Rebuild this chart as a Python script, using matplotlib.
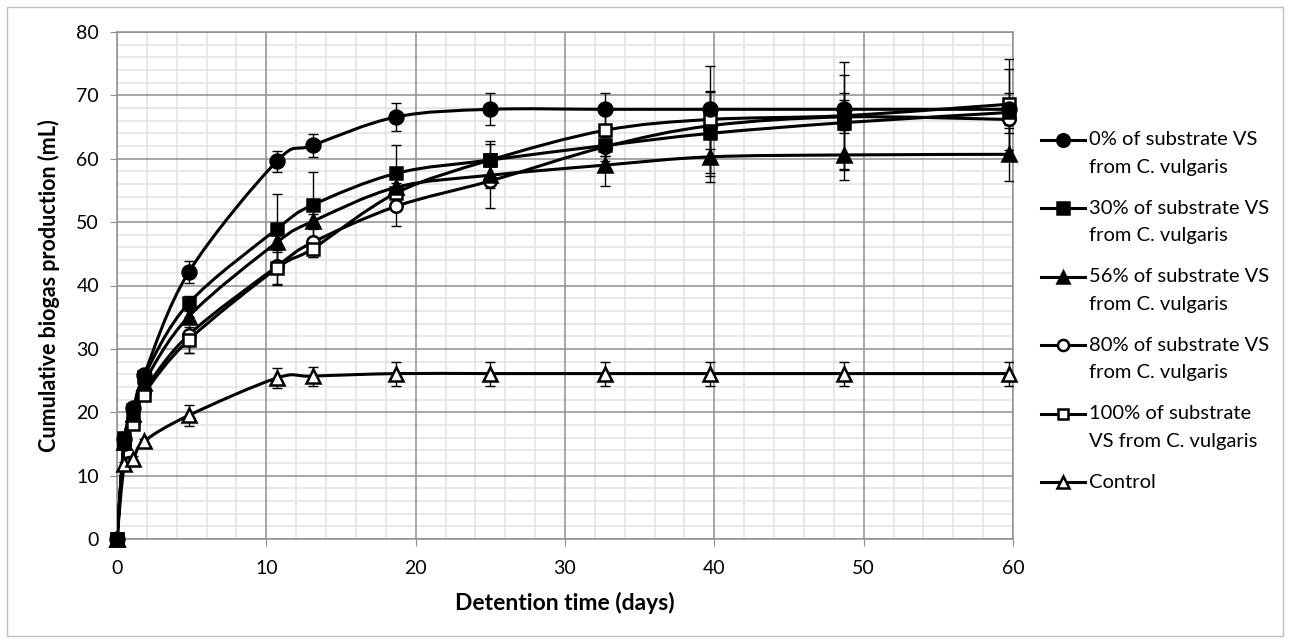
import numpy as np
import matplotlib
matplotlib.use("Agg")
import matplotlib.pyplot as plt
from matplotlib.path import Path
from matplotlib.patches import PathPatch, Rectangle
from matplotlib.lines import Line2D
from matplotlib.ticker import MultipleLocator

plt.rcParams['font.family'] = ['Lato', 'DejaVu Sans']

# ---------------- data ----------------
days = [0, 0.5, 1.1, 1.8, 4.8, 10.7, 13.1, 18.7, 25.0, 32.7, 39.7, 48.7, 59.7]

s0 = [0, 15.8, 20.6, 25.8, 42.1, 59.6, 62.1, 66.6, 67.8, 67.8, 67.8, 67.8, 67.8]
e0 = [0, 0.5, 0.5, 0.5, 1.7, 1.65, 1.75, 2.2, 2.5, 2.5, 2.7, 2.5, 2.5]

s30 = [0, 15.9, 20.4, 25.6, 37.2, 48.9, 52.7, 57.7, 59.8, 62.1, 64.0, 65.7, 67.3]
e30 = [0, 0.5, 0.5, 0.5, 1.2, 5.6, 5.2, 4.5, 3.0, 2.5, 6.7, 7.5, 6.8]

s56 = [0, 15.3, 19.8, 24.6, 35.1, 46.8, 50.1, 55.5, 57.4, 59.0, 60.3, 60.6, 60.7]
e56 = [0, 0.5, 0.5, 0.5, 1.0, 1.2, 1.2, 1.5, 2.0, 3.3, 3.9, 4.0, 4.2]

s80 = [0, 15.0, 18.6, 23.2, 32.2, 43.0, 46.8, 52.5, 56.5, 61.9, 65.2, 66.6, 66.2]
e80 = [0, 0.5, 0.5, 0.5, 2.8, 2.7, 2.3, 3.1, 4.2, 1.5, 3.6, 2.6, 2.2]

s100 = [0, 15.2, 18.2, 22.8, 31.4, 42.7, 45.8, 54.6, 59.8, 64.5, 66.2, 66.8, 68.6]
e100 = [0, 0.5, 0.5, 0.5, 2.0, 2.6, 1.3, 1.5, 2.5, 4.0, 8.4, 8.4, 7.2]

sc = [0, 11.8, 12.7, 15.4, 19.5, 25.4, 25.7, 26.1, 26.1, 26.1, 26.1, 26.1, 26.1]
ec = [0, 0.4, 0.4, 0.4, 1.7, 1.6, 1.5, 1.9, 1.9, 1.9, 1.9, 1.9, 1.9]

labels = ["0% of substrate VS\nfrom C. vulgaris",
          "30% of substrate VS\nfrom C. vulgaris",
          "56% of substrate VS\nfrom C. vulgaris",
          "80% of substrate VS\nfrom C. vulgaris",
          "100% of substrate\nVS from C. vulgaris",
          "Control"]

series = [s0, s30, s56, s80, s100, sc]
errors = [e0, e30, e56, e80, e100, ec]
markers = ['o', 's', '^', 'o', 's', '^']
faces = ['black', 'black', 'black', 'white', 'white', 'white']
msizes = [10, 9, 10, 9, 8.5, 9.5]
marker_z = [5.3, 5.9, 5.4, 5.1, 5.2, 5.0]

# ---------------- figure ----------------
W, H = 1290, 643
fig = plt.figure(figsize=(W / 100, H / 100), dpi=100)
fig.patches.append(Rectangle((7 / W, 7 / H), 1 - 14 / W, 1 - 14 / H,
                             transform=fig.transFigure, fill=False,
                             edgecolor='#bfbfbf', lw=1))

ax = fig.add_axes([117 / W, 1 - 539 / H, 896 / W, 507 / H])
ax.set_xlim(0, 60)
ax.set_ylim(0, 80)
ax.xaxis.set_major_locator(MultipleLocator(10))
ax.yaxis.set_major_locator(MultipleLocator(10))
ax.xaxis.set_minor_locator(MultipleLocator(2))
ax.yaxis.set_minor_locator(MultipleLocator(2))

# minor grid beneath the major grid
ax.vlines(ax.xaxis.get_minorticklocs(), 0, 1, transform=ax.get_xaxis_transform(),
          colors='#e4e4e4', lw=1.2, zorder=0.2)
ax.hlines(ax.yaxis.get_minorticklocs(), 0, 1, transform=ax.get_yaxis_transform(),
          colors='#e4e4e4', lw=1.2, zorder=0.2)
ax.grid(which='major', color='#8f8f8f', lw=1.1, linestyle='-')
ax.set_axisbelow(True)
for sp in ax.spines.values():
    sp.set_color('#8f8f8f')
    sp.set_linewidth(1.1)
ax.tick_params(which='major', direction='out', length=5, color='#8f8f8f',
               labelsize=14, pad=8)
ax.tick_params(which='minor', length=0)
ax.tick_params(axis='x', pad=10)


def smooth_path(x, y):
    x = np.asarray(x, float)
    y = np.asarray(y, float)
    n = len(x)
    verts = [(x[0], y[0])]
    codes = [Path.MOVETO]
    for i in range(n - 1):
        x0, y0 = (x[i - 1], y[i - 1]) if i > 0 else (x[i], y[i])
        x3, y3 = (x[i + 2], y[i + 2]) if i + 2 < n else (x[i + 1], y[i + 1])
        c1 = (x[i] + (x[i + 1] - x0) / 6, y[i] + (y[i + 1] - y0) / 6)
        c2 = (x[i + 1] - (x3 - x[i]) / 6, y[i + 1] - (y3 - y[i]) / 6)
        verts += [c1, c2, (x[i + 1], y[i + 1])]
        codes += [Path.CURVE4] * 3
    return Path(verts, codes)


for k, (s, e) in enumerate(zip(series, errors)):
    ax.add_patch(PathPatch(smooth_path(days, s), fill=False, edgecolor='black',
                           lw=2.2, joinstyle='round', capstyle='round',
                           zorder=3 + k * 0.1))
    ax.errorbar(days, s, yerr=e, fmt='none', ecolor='black', elinewidth=1.0,
                capsize=3.6, capthick=1.0, zorder=3.5 + k * 0.1)
for k, s in enumerate(series):
    ax.plot(days, s, linestyle='none', marker=markers[k], markersize=msizes[k],
            markerfacecolor=faces[k], markeredgecolor='black',
            markeredgewidth=1.8, zorder=marker_z[k], clip_on=False)

ax.set_xlabel("Detention time (days)", fontsize=16.5, fontweight='bold',
              labelpad=11)
ax.set_ylabel("Cumulative biogas production (mL)", fontsize=15.5,
              fontweight='bold', labelpad=12)

# ---------------- legend (manual) ----------------
leg_y = [140, 208.4, 276.8, 345.2, 413.6, 482]
for k, yy in enumerate(leg_y):
    yf = 1 - yy / H
    fig.add_artist(Line2D([1041 / W, 1085 / W], [yf, yf], color='black',
                          lw=2.2, transform=fig.transFigure))
    fig.add_artist(Line2D([1063 / W], [yf], marker=markers[k],
                          markersize=msizes[k] - 1, markerfacecolor=faces[k],
                          markeredgecolor='black', markeredgewidth=1.8,
                          linestyle='none', transform=fig.transFigure))
    lines = labels[k].split("\n")
    for j, t in enumerate(lines):
        fig.text(1089 / W, 1 - (yy + j * 27.6) / H, t, fontsize=14.5,
                 va='center', ha='left')

fig.savefig("out.png", dpi=100)
